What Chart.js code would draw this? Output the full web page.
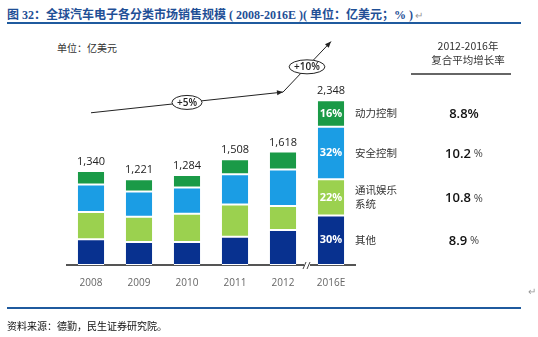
<!DOCTYPE html>
<html>
<head>
<meta charset="utf-8">
<script src="https://cdn.jsdelivr.net/npm/chart.js@4.4.1/dist/chart.umd.min.js"></script>
<style>
  html, body { margin: 0; padding: 0; background: #fff; }
  body { width: 538px; height: 337px; position: relative; overflow: hidden; }
  #c { position: absolute; left: 0; top: 0; }
  .title {
    position: absolute; left: 7px; top: 5px; white-space: nowrap;
    font: bold 12px "Liberation Serif", "Noto Sans CJK SC", serif; color: #1f4f96;
  }
  .ret { color: #999; font-weight: normal; font-size: 10px; margin-left: 2px; }
  .rule { position: absolute; left: 7px; width: 514px; height: 2px; background: #1f5a9e; }
  .unit {
    position: absolute; left: 57px; top: 40px;
    font: 10px "Noto Sans CJK SC", sans-serif; color: #333;
  }
  .source {
    position: absolute; left: 7px; top: 318px; white-space: nowrap;
    font: 10px "Noto Sans CJK SC", serif; color: #111;
  }
  .ret2 { position: absolute; left: 528px; top: 286px; color: #999; font-size: 10px; }
</style>
</head>
<body>
<div class="title">图 32：全球汽车电子各分类市场销售规模 ( 2008-2016E )( 单位：亿美元；% )<span class="ret">↵</span></div>
<div class="rule" style="top:22px"></div>
<div class="unit">单位：亿美元</div>
<canvas id="c" width="538" height="337"></canvas>
<div class="ret2">↵</div>
<div class="rule" style="top:307px"></div>
<div class="source">资料来源：德勤，民生证券研究院。</div>

<script>
// years on the x axis
const years = ['2008', '2009', '2010', '2011', '2012', '2016E']

// segment values, 亿美元 (bottom to top)
const other        = [368, 328, 328, 402, 498, 704]
const infotainment = [388, 359, 402, 461, 344, 517]
const safety       = [391, 360, 375, 432, 520, 751]
const powertrain   = [193, 174, 179, 213, 256, 376]

// totals printed above the bars
const totals = [1340, 1221, 1284, 1508, 1618, 2348]

// 2016E shares printed inside the last bar (same order as the stack)
const shares2016 = ['30%', '22%', '32%', '16%']

// right side table
const seriesNames = [['其他'], ['通讯娱乐', '系统'], ['安全控制'], ['动力控制']]
const cagrValues  = ['8.9', '10.8', '10.2', '8.8']
const cagrHeader  = ['2012-2016年', '复合平均增长率']

// growth arrows: [category index, value] anchors and the labels
const growthPoints = [[0, 2170], [4, 2465], [5, 3185]]
const growthLabels = ['+5%', '+10%']

const colors = ['#08318f', '#9bd14f', '#1b9de4', '#1a9a47']
const NUM = '"Open Sans", "DejaVu Sans", sans-serif'
const CJK = '"Noto Sans CJK SC", sans-serif'

function arrowHead(ctx, x0, y0, x1, y1) {
    const a = Math.atan2(y1 - y0, x1 - x0)
    const len = 6, w = 2.6
    ctx.beginPath()
    ctx.moveTo(x1, y1)
    ctx.lineTo(x1 - len * Math.cos(a) + w * Math.sin(a), y1 - len * Math.sin(a) - w * Math.cos(a))
    ctx.lineTo(x1 - len * Math.cos(a) - w * Math.sin(a), y1 - len * Math.sin(a) + w * Math.cos(a))
    ctx.closePath()
    ctx.fill()
}

const extras = {
    id: 'extras',
    afterDatasetsDraw(chart) {
        const ctx = chart.ctx
        const xs = chart.scales.x, ys = chart.scales.y
        const area = chart.chartArea
        ctx.save()

        // totals above bars
        ctx.fillStyle = '#222'
        ctx.font = '11px ' + NUM
        ctx.textAlign = 'center'
        ctx.textBaseline = 'middle'
        totals.forEach((t, i) => {
            ctx.fillText(t.toLocaleString('en-US'), xs.getPixelForValue(i), ys.getPixelForValue(t) - 9)
        })

        // shares inside the 2016E bar + names + cagr on the right
        const last = years.length - 1
        const stacks = [other, infotainment, safety, powertrain]
        let base = 0
        stacks.forEach((arr, k) => {
            const v = arr[last]
            const yMid = ys.getPixelForValue(base + v / 2)
            base += v
            ctx.fillStyle = '#fff'
            ctx.font = 'bold 11px ' + NUM
            ctx.textAlign = 'center'
            ctx.fillText(shares2016[k], xs.getPixelForValue(last), yMid)

            ctx.fillStyle = '#333'
            ctx.font = '10.5px ' + CJK
            ctx.textAlign = 'left'
            const lines = seriesNames[k]
            lines.forEach((ln, j) => {
                ctx.fillText(ln, area.right, yMid + (j - (lines.length - 1) / 2) * 14)
            })

            // cagr number, % separate for all but the top one
            const cx = area.right + 109
            ctx.fillStyle = '#111'
            ctx.font = '600 13px ' + NUM
            const num = cagrValues[k]
            const pct = k === 3 ? '%' : ' %'
            const nw = ctx.measureText(num).width
            ctx.font = (k === 3 ? '600 13px ' : '11px ') + NUM
            const pw = ctx.measureText(pct).width
            const sx = cx - (nw + pw) / 2
            ctx.font = '600 13px ' + NUM
            ctx.fillText(num, sx, yMid + 1)
            ctx.font = (k === 3 ? '600 13px ' : '11px ') + NUM
            ctx.fillStyle = k === 3 ? '#111' : '#444'
            ctx.fillText(pct, sx + nw, yMid + 1)
        })

        // table header
        ctx.fillStyle = '#333'
        ctx.font = '10.5px ' + CJK
        ctx.textAlign = 'center'
        const hx = area.right + 113
        ctx.fillText(cagrHeader[0], hx, 46)
        ctx.fillText(cagrHeader[1], hx, 60)
        ctx.strokeStyle = '#666'
        ctx.lineWidth = 2
        ctx.beginPath()
        ctx.moveTo(area.right + 56, 74)
        ctx.lineTo(area.right + 156, 74)
        ctx.stroke()

        // axis break mark
        const bx = (xs.getPixelForValue(last - 1) + xs.getPixelForValue(last)) / 2
        ctx.strokeStyle = '#444'
        ctx.lineWidth = 1
        ctx.fillStyle = '#fff'
        ctx.fillRect(bx - 3, area.bottom - 2, 6, 4)
        ctx.beginPath()
        ctx.moveTo(bx - 4, area.bottom + 4); ctx.lineTo(bx - 1, area.bottom - 3)
        ctx.moveTo(bx,     area.bottom + 4); ctx.lineTo(bx + 3, area.bottom - 3)
        ctx.stroke()

        // growth arrows
        const pts = growthPoints.map(p => [xs.getPixelForValue(p[0]), ys.getPixelForValue(p[1])])
        ctx.strokeStyle = '#222'
        ctx.fillStyle = '#222'
        ctx.lineWidth = 1
        for (let i = 0; i < pts.length - 1; i++) {
            const [x0, y0] = pts[i], [x1, y1] = pts[i + 1]
            ctx.beginPath()
            ctx.moveTo(x0, y0); ctx.lineTo(x1, y1)
            ctx.stroke()
            arrowHead(ctx, x0, y0, x1, y1)
        }
        for (let i = 0; i < growthLabels.length; i++) {
            const mx = (pts[i][0] + pts[i + 1][0]) / 2
            const my = (pts[i][1] + pts[i + 1][1]) / 2
            ctx.font = '600 10px ' + NUM
            const rx = ctx.measureText(growthLabels[i]).width / 2 + 5
            ctx.beginPath()
            ctx.ellipse(mx, my, rx, 7, 0, 0, Math.PI * 2)
            ctx.fillStyle = '#fff'
            ctx.fill()
            ctx.strokeStyle = '#222'
            ctx.stroke()
            ctx.fillStyle = '#222'
            ctx.textAlign = 'center'
            ctx.fillText(growthLabels[i], mx, my + 0.5)
        }

        ctx.restore()
    }
}

const mkSet = (label, data, color) => ({
    label: label,
    data: data,
    backgroundColor: color,
    borderColor: '#fff',
    borderWidth: { top: 1, bottom: 1, left: 0, right: 0 },
    borderSkipped: false,
    barPercentage: 0.55,
    categoryPercentage: 1.0,
})

new Chart(document.getElementById('c'), {
    type: 'bar',
    data: {
        labels: years,
        datasets: [
            mkSet('其他', other, colors[0]),
            mkSet('通讯娱乐系统', infotainment, colors[1]),
            mkSet('安全控制', safety, colors[2]),
            mkSet('动力控制', powertrain, colors[3]),
        ]
    },
    options: {
        responsive: false,
        animation: false,
        devicePixelRatio: 1,
        layout: { padding: { left: 67, right: 183, top: 30, bottom: 42 } },
        plugins: { legend: { display: false }, tooltip: { enabled: false } },
        scales: {
            x: {
                stacked: true,
                grid: { display: false, drawTicks: false },
                border: { display: true, color: '#555', width: 2 },
                ticks: { color: '#666', padding: 12, font: { family: NUM, size: 10 } },
                afterFit: s => { s.height = 30 },
            },
            y: {
                stacked: true,
                display: false,
                min: 0,
                max: 3350,
            }
        }
    },
    plugins: [extras]
})
</script>
</body>
</html>
